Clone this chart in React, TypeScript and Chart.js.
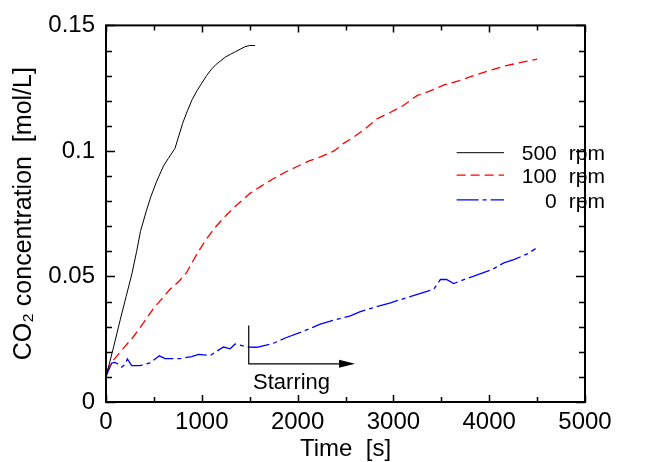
import React, { useEffect, useRef } from "react";
import { Chart, registerables } from "chart.js";

Chart.register(...registerables);

const FONT = "'Liberation Sans', Arial, Helvetica, sans-serif";

// 500 rpm (black, solid)
const time500 = [0, 40, 80, 150, 210, 270, 320, 360, 420, 470, 530, 600, 650, 720, 760, 800, 850, 900, 950, 1000, 1050, 1100, 1150, 1200, 1250, 1300, 1350, 1400, 1450, 1500, 1555];
const conc500 = [0.01, 0.016, 0.022, 0.033, 0.042, 0.051, 0.06, 0.068, 0.076, 0.082, 0.088, 0.094, 0.097, 0.101, 0.106, 0.111, 0.116, 0.1205, 0.124, 0.127, 0.13, 0.1325, 0.1345, 0.136, 0.1375, 0.1385, 0.1395, 0.1405, 0.1415, 0.142, 0.142];

// 100 rpm (red, dashed)
const time100 = [0, 75, 150, 280, 400, 490, 580, 670, 760, 840, 950, 1050, 1150, 1260, 1380, 1500, 1620, 1750, 1870, 1990, 2120, 2240, 2380, 2480, 2590, 2710, 2830, 2970, 3100, 3250, 3390, 3530, 3690, 3840, 4000, 4150, 4300, 4500];
const conc100 = [0.012, 0.0165, 0.02, 0.0257, 0.032, 0.037, 0.041, 0.045, 0.048, 0.0515, 0.059, 0.065, 0.07, 0.0746, 0.079, 0.083, 0.086, 0.089, 0.0915, 0.0937, 0.096, 0.0976, 0.1, 0.103, 0.1056, 0.109, 0.1128, 0.1154, 0.118, 0.1221, 0.124, 0.1263, 0.128, 0.13, 0.132, 0.1337, 0.135, 0.1366];

// 0 rpm (blue, dash-dot)
const time0 = [0, 25, 60, 94, 130, 164, 200, 223, 268, 355, 460, 557, 617, 774, 895, 964, 1087, 1226, 1296, 1348, 1470, 1575, 1749, 1871, 2028, 2237, 2376, 2551, 2655, 2794, 2970, 3142, 3300, 3421, 3491, 3554, 3630, 3740, 3840, 4031, 4153, 4257, 4400, 4484];
const conc0 = [0.01, 0.0125, 0.0155, 0.0158, 0.015, 0.0139, 0.015, 0.0172, 0.0145, 0.0145, 0.0156, 0.0184, 0.0173, 0.0173, 0.0181, 0.019, 0.0185, 0.0219, 0.0212, 0.0231, 0.0219, 0.0218, 0.0234, 0.0255, 0.0277, 0.031, 0.0326, 0.0343, 0.036, 0.0376, 0.0395, 0.0416, 0.0435, 0.0449, 0.0488, 0.0488, 0.0472, 0.0488, 0.0501, 0.0528, 0.0554, 0.0567, 0.059, 0.0611];

const legendNumbers = ["500", "100", "0"];
const legendUnit = "rpm";
const annotationText = "Starring";

const X_MIN = 0, X_MAX = 5000, X_LABEL_STEP = 1000, X_TICK_STEP = 500;
const Y_MIN = 0, Y_MAX = 0.15, Y_LABEL_STEP = 0.05, Y_TICK_STEP = 0.01;

const COLORS = ["#000000", "#ff0000", "#0000ff"];
const DASHES: number[][] = [[], [9, 5], [22, 4, 4, 4]];
const WIDTHS = [1, 1.3, 1.3];

const toPoints = (xs: number[], ys: number[]) => xs.map((x, i) => ({ x, y: ys[i] }));

const frameTicksPlugin = {
  id: "frameTicks",
  afterDatasetsDraw(chart: any) {
    const { ctx, chartArea, scales } = chart;
    const { left, right, top, bottom } = chartArea;
    const x = scales.x, y = scales.y;
    ctx.save();
    ctx.strokeStyle = "#000";
    ctx.lineWidth = 1.5;
    for (let v = X_MIN; v <= X_MAX + 1e-9; v += X_TICK_STEP) {
      const px = Math.round(x.getPixelForValue(v)) + 0.5;
      const len = Math.abs(v % X_LABEL_STEP) < 1e-9 ? 7 : 5;
      ctx.beginPath();
      ctx.moveTo(px, bottom); ctx.lineTo(px, bottom - len);
      ctx.moveTo(px, top); ctx.lineTo(px, top + len);
      ctx.stroke();
    }
    const n = Math.round((Y_MAX - Y_MIN) / Y_TICK_STEP);
    for (let i = 0; i <= n; i++) {
      const v = Y_MIN + i * Y_TICK_STEP;
      const py = Math.round(y.getPixelForValue(v)) + 0.5;
      const major = i % Math.round(Y_LABEL_STEP / Y_TICK_STEP) === 0;
      const len = major ? 9 : 6;
      ctx.beginPath();
      ctx.moveTo(left, py); ctx.lineTo(left + len, py);
      ctx.moveTo(right, py); ctx.lineTo(right - len, py);
      ctx.stroke();
    }
    ctx.lineWidth = 2;
    ctx.strokeRect(left, top, right - left, bottom - top);
    ctx.restore();
  },
};

const annotationPlugin = {
  id: "annot",
  afterDatasetsDraw(chart: any) {
    const { ctx, scales } = chart;
    const x = scales.x, y = scales.y;
    const x0 = x.getPixelForValue(1490);
    const yTop = y.getPixelForValue(0.0305);
    const yBot = y.getPixelForValue(0.0152);
    const xTip = x.getPixelForValue(2600);
    ctx.save();
    ctx.strokeStyle = "#000";
    ctx.fillStyle = "#000";
    ctx.lineWidth = 1.2;
    ctx.beginPath();
    ctx.moveTo(x0, yTop);
    ctx.lineTo(x0, yBot);
    ctx.lineTo(xTip - 14, yBot);
    ctx.stroke();
    ctx.beginPath();
    ctx.moveTo(xTip, yBot);
    ctx.lineTo(xTip - 16, yBot - 4);
    ctx.lineTo(xTip - 16, yBot + 4);
    ctx.closePath();
    ctx.fill();
    ctx.font = `22px ${FONT}`;
    ctx.textAlign = "left";
    ctx.textBaseline = "middle";
    ctx.fillText(annotationText, x.getPixelForValue(1535), y.getPixelForValue(0.0077));
    ctx.restore();
  },
};

const legendPlugin = {
  id: "customLegend",
  afterDatasetsDraw(chart: any) {
    const { ctx, scales } = chart;
    const x = scales.x, y = scales.y;
    const rowsV = [0.0993, 0.0904, 0.0805];
    const lineX0 = x.getPixelForValue(3660);
    const lineX1 = x.getPixelForValue(4155);
    const numRight = x.getPixelForValue(4705);
    const unitLeft = x.getPixelForValue(4830);
    ctx.save();
    legendNumbers.forEach((num, i) => {
      const py = y.getPixelForValue(rowsV[i]);
      ctx.strokeStyle = COLORS[i];
      ctx.lineWidth = WIDTHS[i];
      ctx.setLineDash(DASHES[i]);
      ctx.beginPath();
      ctx.moveTo(lineX0, py);
      ctx.lineTo(lineX1, py);
      ctx.stroke();
      ctx.setLineDash([]);
      ctx.fillStyle = "#000";
      ctx.font = `21px ${FONT}`;
      ctx.textBaseline = "middle";
      ctx.textAlign = "right";
      ctx.fillText(num, numRight, py + 2);
      ctx.textAlign = "left";
      ctx.fillText(legendUnit, unitLeft, py + 2);
    });
    ctx.restore();
  },
};

export default function App() {
  const ref = useRef<HTMLCanvasElement | null>(null);
  useEffect(() => {
    if (!ref.current) return;
    const chart = new Chart(ref.current, {
      type: "line",
      data: {
        datasets: [
          { label: "500 rpm", data: toPoints(time500, conc500) },
          { label: "100 rpm", data: toPoints(time100, conc100) },
          { label: "0 rpm", data: toPoints(time0, conc0) },
        ].map((d, i) => ({
          ...d,
          borderColor: COLORS[i],
          backgroundColor: COLORS[i],
          borderWidth: WIDTHS[i],
          borderDash: DASHES[i],
          pointRadius: 0,
          fill: false,
          tension: 0,
        })),
      },
      options: {
        animation: false,
        responsive: false,
        maintainAspectRatio: false,
        layout: { padding: { top: 23, right: 86, left: 0, bottom: 0 } },
        plugins: { legend: { display: false }, tooltip: { enabled: false } },
        scales: {
          x: {
            type: "linear",
            min: X_MIN,
            max: X_MAX,
            grid: { display: false, drawTicks: false },
            border: { display: false },
            ticks: {
              stepSize: X_LABEL_STEP,
              padding: 6,
              color: "#000",
              maxRotation: 0,
              autoSkip: false,
              font: { family: FONT, size: 24 },
              callback: (v: any) => String(Math.round(Number(v))),
            },
            title: {
              display: true,
              text: "Time  [s]",
              color: "#000",
              font: { family: FONT, size: 24, lineHeight: 1 },
              padding: { top: 0, bottom: 1 },
            },
            afterFit: (s: any) => { s.height = 60; },
          },
          y: {
            type: "linear",
            min: Y_MIN,
            max: Y_MAX,
            grid: { display: false, drawTicks: false },
            border: { display: false },
            ticks: {
              stepSize: Y_LABEL_STEP,
              padding: 11,
              color: "#000",
              font: { family: FONT, size: 24 },
              callback: (v: any) => (Number(v) === 0 ? "0" : String(+Number(v).toFixed(2))),
            },
            title: {
              display: true,
              text: "CO₂ concentration  [mol/L]",
              color: "#000",
              font: { family: FONT, size: 25, lineHeight: 1.2 },
              padding: { top: 9, bottom: 0 },
            },
            afterFit: (s: any) => { s.width = 106; },
          },
        },
      } as any,
      plugins: [frameTicksPlugin, annotationPlugin, legendPlugin],
    });
    return () => chart.destroy();
  }, []);
  return (
    <div style={{ position: "fixed", left: 0, top: 0, width: 671, height: 462, background: "#fff" }}>
      <canvas ref={ref} width={671} height={462} />
    </div>
  );
}
